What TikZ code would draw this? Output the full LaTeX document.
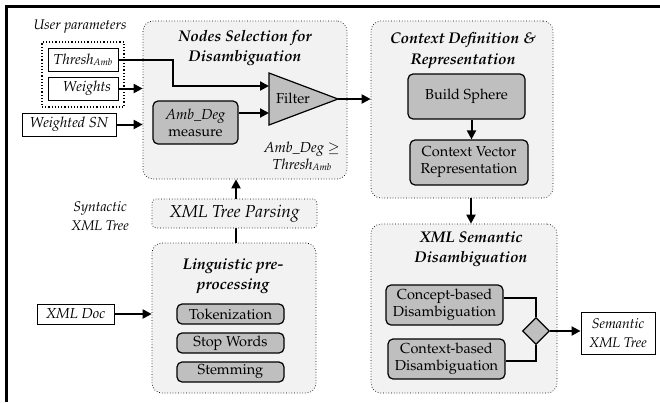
\documentclass[tikz,border=0pt]{standalone}
\usepackage[T1]{fontenc}
\usepackage{mathpazo}
\usetikzlibrary{arrows.meta,shapes.geometric,calc}
\definecolor{panelgray}{HTML}{F2F2F2}
\definecolor{boxgray}{HTML}{BFBFBF}
\newcommand{\mainsz}{\fontsize{14.5}{17}\selectfont}
\newcommand{\lblsz}{\fontsize{14}{19}\selectfont}
\newcommand{\ttlsz}{\fontsize{15.5}{20.5}\selectfont}
\newcommand{\subamb}{\raisebox{-0.15ex}{\fontsize{9.5}{9.5}\selectfont Amb}}
\begin{document}
\begin{tikzpicture}[x=1pt,y=-1pt,
  panel/.style={draw,dotted,line width=0.7pt,fill=panelgray,rounded corners=10pt,inner sep=0pt},
  gbox/.style={draw,fill=boxgray,rounded corners=5pt,line width=1.2pt,inner sep=0pt,align=center,font=\mainsz},
  wbox/.style={draw,fill=white,line width=0.9pt,inner sep=0pt,align=center,font=\mainsz\itshape},
  ttl/.style={align=center,font=\ttlsz\bfseries\itshape,inner sep=0pt},
  lbl/.style={align=center,font=\lblsz\itshape,inner sep=0pt},
  arr/.style={line width=2pt,-{Triangle[length=9pt,width=9pt]}},
  conn/.style={line width=1.1pt}
]
\useasboundingbox (0,0) rectangle (660,402);
% frame
\draw[line width=2.2pt] (6.5,402) -- (6.5,6.5) -- (660,6.5);

% panels
\node[panel,minimum width=204,minimum height=158] (p1) at (245,100) {};
\node[panel,minimum width=182,minimum height=177] (p2) at (462,109.5) {};
\node[panel,minimum width=164,minimum height=150] (p3) at (234,318) {};
\node[panel,minimum width=186,minimum height=169] (p4) at (464,308.5) {};

% titles
\node[ttl] (t1) at (245,48) {Nodes Selection for\\Disambiguation};
\node[ttl] (t2) at (463,50.5) {Context Definition \&\\Representation};
\node[ttl] (t3) at (233,276) {Linguistic pre-\\processing};
\node[ttl] (t4) at (471,249) {XML Semantic\\Disambiguation};

% user parameters
\node[lbl] (up) at (80,27) {User parameters};
\node[draw,dotted,line width=1.2pt,minimum width=82,minimum height=65,inner sep=0pt] (upbox) at (83,74.5) {};
\node[wbox,minimum width=70,minimum height=23] (thresh) at (83,59.5) {Thresh\subamb};
\node[wbox,minimum width=70,minimum height=23] (weights) at (83,88.5) {\hspace*{8pt}Weights};
\node[wbox,minimum width=94,minimum height=23] (wsn) at (69,124.5) {Weighted SN};

% panel 1 content
\node[gbox,minimum width=85,minimum height=43] (amb) at (195.5,122.5) {\itshape Amb\_Deg\\measure};
\coordinate (fin1) at (269,86);
\coordinate (fin2) at (269,113);
\coordinate (ftip) at (338,99);
\draw[fill=boxgray,line width=1.2pt,line join=miter] (269,73) -- (ftip) -- (269,125) -- cycle;
\node[font=\mainsz,inner sep=0pt] (filter) at (293,98) {Filter};
\node[lbl,font=\mainsz\itshape] (cond) at (302,156.5) {Amb\_Deg $\geq$\\Thresh\subamb};

\draw[arr] (thresh.east) -| (173,86) -- (fin1);
\draw[arr] (weights.east) -- (weights.east -| p1.west);
\draw[arr] (wsn.east) -- (wsn.east -| p1.west);
\draw[arr] (amb.east |- fin2) -- (fin2);
\draw[arr] (ftip) -- (ftip -| p2.west);

% panel 2 content
\node[gbox,minimum width=117,minimum height=45] (bs) at (466.5,96.5) {Build Sphere};
\node[gbox,minimum width=118,minimum height=45] (cvr) at (469,162.5) {Context Vector\\Representation};
\draw[arr] ([xshift=5pt]bs.south) -- ([xshift=5pt]bs.south |- cvr.north);
\draw[arr] ([xshift=9pt]p2.south) -- ([xshift=9pt]p2.south |- p4.north);

% panel 3 content
\node[gbox,minimum width=107,minimum height=20] (tok) at (230.5,314) {Tokenization};
\node[gbox,minimum width=107,minimum height=20] (stop) at (230.5,343) {Stop Words};
\node[gbox,minimum width=107,minimum height=20] (stem) at (230.5,372) {Stemming};
\node[wbox,minimum width=77,minimum height=20] (xmldoc) at (75.5,314) {XML Doc};
\draw[arr] (xmldoc.east) -- (xmldoc.east -| p3.west);

% parsing
\draw[arr] ([xshift=2pt]p3.north) -- ([xshift=2pt]p3.north |- p1.south);
\node[draw,dotted,line width=0.7pt,fill=panelgray,rounded corners=4pt,minimum width=165,minimum height=29,inner sep=0pt,font=\fontsize{17.3}{19}\selectfont\itshape] (parse) at (234.5,213.5) {XML Tree Parsing};
\node[lbl] (syn) at (100,216) {Syntactic\\XML Tree};

% panel 4 content
\node[gbox,minimum width=117,minimum height=40] (concept) at (444.5,305) {Concept-based\\Disambiguation};
\node[gbox,minimum width=117,minimum height=40] (ctx) at (446.5,359) {Context-based\\Disambiguation};
\node[diamond,draw,fill=boxgray,line width=1.2pt,minimum width=27,minimum height=27,inner sep=0pt] (dia) at (536,331) {};
\node[wbox,minimum width=74,minimum height=42,font=\lblsz\itshape] (sem) at (618,333) {Semantic\\XML Tree};
\draw[conn] ([yshift=7pt]concept.east) -| (dia.north);
\draw[conn] ([yshift=-2pt]ctx.east) -| (dia.south);
\draw[arr] (dia.east) -- (dia.east -| sem.west);
\end{tikzpicture}
\end{document}
